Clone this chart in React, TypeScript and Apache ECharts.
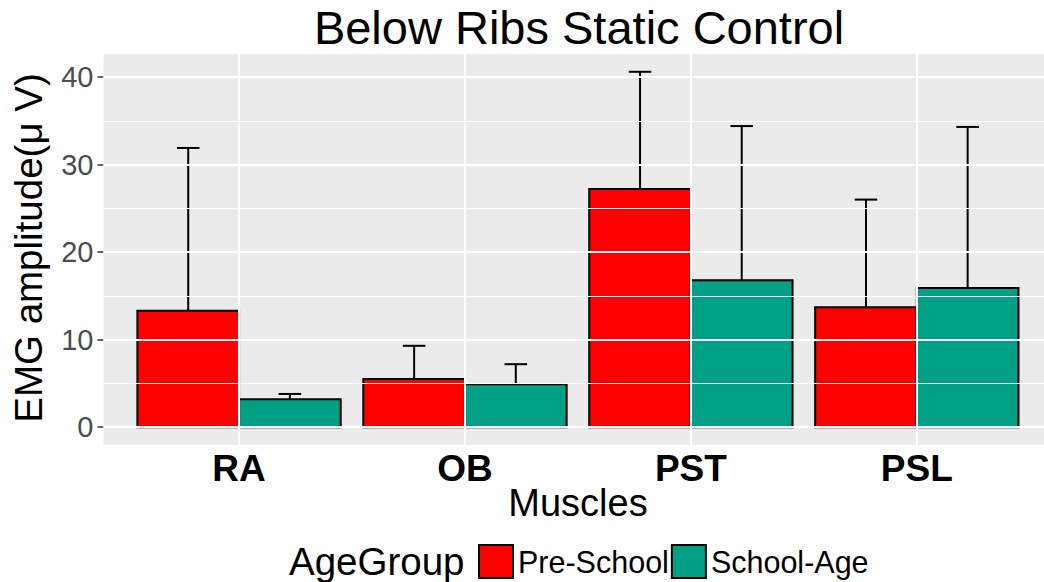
import React, { useEffect, useRef } from "react";
import * as echarts from "echarts";

const categories = ["RA", "OB", "PST", "PSL"];
const groups = ["Pre-School", "School-Age"];
const preSchoolMean = [13.3, 5.5, 27.2, 13.7];
const preSchoolUpper = [31.9, 9.3, 40.6, 26.0];
const schoolAgeMean = [3.2, 4.9, 16.8, 15.9];
const schoolAgeUpper = [3.8, 7.2, 34.4, 34.3];
const yTicks = [0, 10, 20, 30, 40];
const yMinor = [5, 15, 25, 35];
const xTicks = [1, 2, 3, 4];
const colors = ["#FF0000", "#00A087"];

const FONT = "'Liberation Sans', Arial, sans-serif";
const HALF_BAR = 0.225;
const HALF_CAP = 0.05;

const makeRender = (color: string) => (params: any, api: any) => {
  const x = api.value(0);
  const m = api.value(1);
  const u = api.value(2);
  const p0 = api.coord([x - HALF_BAR, m]);
  const p1 = api.coord([x + HALF_BAR, 0]);
  const top = api.coord([x, m]);
  const errTop = api.coord([x, u]);
  const capL = api.coord([x - HALF_CAP, u]);
  const capR = api.coord([x + HALF_CAP, u]);
  return {
    type: "group",
    children: [
      {
        type: "line",
        shape: { x1: top[0], y1: top[1], x2: errTop[0], y2: errTop[1] },
        style: { stroke: "#000", lineWidth: 2 },
      },
      {
        type: "line",
        shape: { x1: capL[0], y1: capL[1], x2: capR[0], y2: capR[1] },
        style: { stroke: "#000", lineWidth: 2 },
      },
      {
        type: "rect",
        shape: { x: p0[0], y: p0[1], width: p1[0] - p0[0], height: p1[1] - p0[1] },
        style: { fill: color, stroke: "#000", lineWidth: 2 },
      },
    ],
  };
};

export default function App() {
  const ref = useRef<HTMLDivElement>(null);
  useEffect(() => {
    document.body.style.margin = "0";
    const chart = echarts.init(ref.current!, null, { renderer: "svg" });
    const preData = preSchoolMean.map((m, i) => [xTicks[i] - HALF_BAR, m, preSchoolUpper[i]]);
    const schData = schoolAgeMean.map((m, i) => [xTicks[i] + HALF_BAR, m, schoolAgeUpper[i]]);
    chart.setOption({
      animation: false,
      backgroundColor: "#fff",
      grid: {
        left: 103.5,
        right: 0,
        top: 54,
        bottom: 137,
        show: true,
        backgroundColor: "#EBEBEB",
        borderWidth: 0,
        containLabel: false,
      },
      xAxis: {
        type: "value",
        min: 0.4,
        max: 4.563,
        axisLine: { show: false },
        splitLine: { show: false },
        axisTick: {
          show: true,
          length: 6,
          lineStyle: { color: "#333", width: 1.5 },
          customValues: xTicks,
        },
        axisLabel: {
          customValues: xTicks,
          formatter: (v: number) => categories[Math.round(v) - 1] ?? "",
          fontFamily: FONT,
          fontSize: 37,
          fontWeight: "bold",
          color: "#000",
          margin: 5,
        },
      },
      yAxis: {
        type: "value",
        min: -2.03,
        max: 42.63,
        axisLine: { show: false },
        splitLine: { show: false },
        axisTick: {
          show: true,
          length: 6,
          lineStyle: { color: "#333", width: 1.5 },
          customValues: yTicks,
        },
        axisLabel: {
          customValues: yTicks,
          fontFamily: FONT,
          fontSize: 29,
          color: "#4D4D4D",
          margin: 10,
        },
      },
      legend: {
        data: groups.map((g, i) => ({
          name: g,
          itemStyle: { color: colors[i], borderColor: "#000", borderWidth: 2 },
        })),
        icon: "rect",
        itemWidth: 34,
        itemHeight: 33,
        itemGap: 2,
        left: 478,
        top: 544,
        padding: 0,
        textStyle: { fontFamily: FONT, fontSize: 30.5, color: "#000" },
      },
      graphic: [
        {
          type: "text",
          x: 579,
          y: 4,
          style: {
            text: "Below Ribs Static Control",
            fontFamily: FONT,
            fontSize: 47,
            fill: "#000",
            textAlign: "center",
            textVerticalAlign: "top",
          },
        },
        {
          type: "text",
          x: 578,
          y: 484,
          style: {
            text: "Muscles",
            fontFamily: FONT,
            fontSize: 38,
            fill: "#000",
            textAlign: "center",
            textVerticalAlign: "top",
          },
        },
        {
          type: "text",
          x: 28,
          y: 248,
          rotation: Math.PI / 2,
          style: {
            text: "EMG amplitude(μ V)",
            fontFamily: FONT,
            fontSize: 38.5,
            fill: "#000",
            textAlign: "center",
            textVerticalAlign: "middle",
          },
        },
        {
          type: "text",
          x: 289,
          y: 561,
          style: {
            text: "AgeGroup",
            fontFamily: FONT,
            fontSize: 38.5,
            fill: "#000",
            textAlign: "left",
            textVerticalAlign: "middle",
          },
        },
      ],
      series: [
        {
          type: "line",
          data: [],
          silent: true,
          z: 1,
          markLine: {
            silent: true,
            symbol: "none",
            label: { show: false },
            animation: false,
            data: [
              ...yMinor.map((v) => ({ yAxis: v, lineStyle: { color: "#fff", width: 1, type: "solid" } })),
              ...yTicks.map((v) => ({ yAxis: v, lineStyle: { color: "#fff", width: 2, type: "solid" } })),
              ...xTicks.map((v) => ({ xAxis: v, lineStyle: { color: "#fff", width: 2, type: "solid" } })),
            ],
          },
        },
        {
          name: groups[0],
          type: "custom",
          z: 3,
          renderItem: makeRender(colors[0]),
          itemStyle: { color: colors[0], borderColor: "#000", borderWidth: 2 },
          encode: { x: 0, y: [1, 2] },
          data: preData,
        },
        {
          name: groups[1],
          type: "custom",
          z: 3,
          renderItem: makeRender(colors[1]),
          itemStyle: { color: colors[1], borderColor: "#000", borderWidth: 2 },
          encode: { x: 0, y: [1, 2] },
          data: schData,
        },
      ],
    });
    return () => chart.dispose();
  }, []);
  return <div ref={ref} style={{ width: 1044, height: 582 }} />;
}
